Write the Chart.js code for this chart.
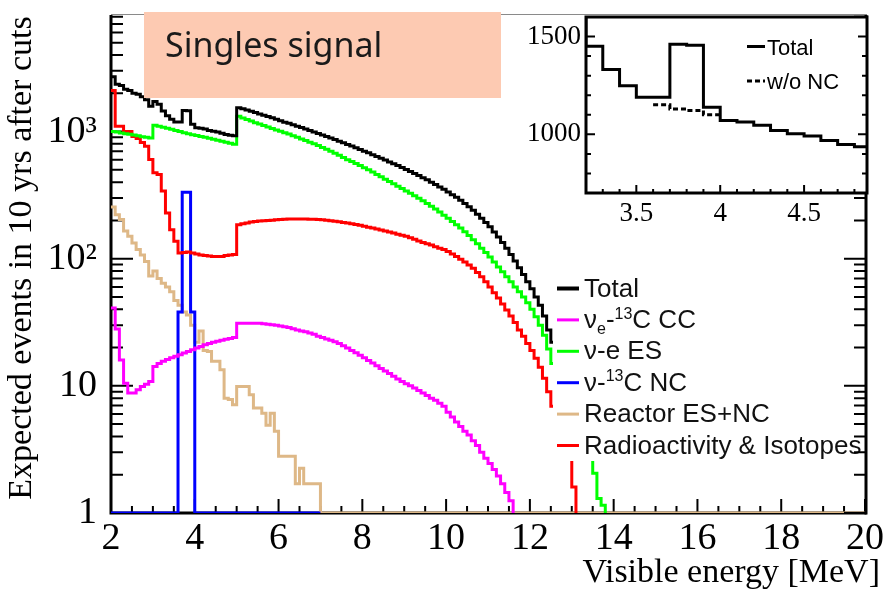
<!DOCTYPE html>
<html>
<head>
<meta charset="utf-8">
<script src="https://cdn.jsdelivr.net/npm/chart.js@4.4.0/dist/chart.umd.min.js"></script>
<style>
html, body { margin: 0; padding: 0; background: #fff; }
#wrap { position: relative; width: 886px; height: 590px; overflow: hidden; }
#mainCanvas { position: absolute; left: 0; top: 0; }
#insetCanvas { position: absolute; left: 500px; top: 0; }
</style>
</head>
<body>
<div id="wrap">
  <canvas id="mainCanvas" width="886" height="590"></canvas>
  <canvas id="insetCanvas" width="386" height="240"></canvas>
</div>
<script>
// histogram bins are 0.1 MeV wide, every series is listed from its first bin
var BIN = 0.1;

var totalStart = 2.0;
var totalVals = [
  2700, 2350, 2300, 2150, 2100, 2000, 1960, 1880, 1780, 1580,
  1720, 1640, 1450, 1331, 1248, 1190, 1190, 1461, 1456, 1139,
  1071, 1063, 1046, 1020, 1003, 991, 969, 948, 936, 925,
  1537, 1510, 1475, 1445, 1410, 1375, 1345, 1315, 1285, 1250,
  1215, 1185, 1160, 1130, 1100, 1075, 1045, 1020, 990, 965,
  940, 915, 890, 865, 840, 815, 790, 768, 745, 722,
  700, 680, 658, 637, 616, 596, 577, 558, 540, 522,
  503, 486, 468, 451, 434, 417, 400, 384, 367, 351,
  335, 319, 304, 288, 272, 256, 240, 224, 208, 193,
  178, 162, 148, 134, 121, 108, 96, 85, 75, 66,
  58, 50, 43, 35.5, 27.5, 22, 17.5, 14
];

// nu_e - 13C CC
var ccStart = 2.0;
var ccVals = [
  41, 28, 16, 10.5, 8.8, 8.8, 9.3, 9.9, 10.3, 10.8,
  14.2, 15, 15.6, 16.1, 16.6, 17.1, 17.6, 18.1, 18.6, 19.2,
  19.8, 20.4, 21, 21.5, 22, 22.4, 22.8, 23.2, 23.6, 24,
  31, 31, 31, 31, 31, 31, 30.8, 30.5, 30.2, 29.9,
  29.5, 29.1, 28.7, 28.1, 27.5, 27, 26.6, 26, 25.4, 24.6,
  24, 23.4, 22.8, 22.2, 21.5, 20.7, 19.8, 19, 18.2, 17.4,
  16.6, 15.8, 15.1, 14.4, 13.7, 13.1, 12.5, 11.9, 11.3, 10.8,
  10.4, 10, 9.6, 9.2, 8.8, 8.4, 8, 7.7, 7.3, 6.9,
  6.2, 5.7, 5.2, 4.8, 4.4, 4.1, 3.7, 3.4, 3.0, 2.7,
  2.45, 2.2, 1.95, 1.7, 1.45, 1.25
];

// nu - e elastic scattering
var esStart = 2.0;
var esVals = [
  1000, 990, 975, 960, 950, 940, 925, 910, 900, 890,
  1120, 1100, 1080, 1060, 1040, 1020, 1000, 980, 960, 945,
  930, 915, 900, 885, 870, 855, 840, 825, 810, 795,
  1320, 1280, 1245, 1210, 1175, 1145, 1115, 1085, 1055, 1030,
  1005, 980, 955, 925, 900, 875, 850, 825, 800, 775,
  750, 725, 700, 675, 650, 625, 600, 580, 560, 540,
  520, 500, 480, 460, 440, 422, 405, 388, 372, 356,
  341, 327, 313, 299, 285, 272, 259, 246, 233, 220,
  208, 196, 185, 174, 163, 152, 141, 131, 121, 112,
  103, 94, 86, 79, 72, 66, 60, 55, 50, 45,
  40, 35, 30, 25, 19.5, 15, 12, 9.5, 7.5, 6,
  5, 4.2, 3.6, 3.1, 2.8, 2.05, 1.3, 1.15
];

// nu - 13C NC (empty bins from 2 to 7 MeV sit on the axis)
var ncStart = 3.6;
var ncVals = [38, 333, 333, 38];

var reactorStart = 2.0;
var reactorVals = [
  255, 222, 203, 165, 150, 133, 118, 107, 95, 73,
  80, 70, 64, 60, 55, 47, 43, 38, 36, 30,
  22, 27, 19, 18.6, 15.6, 15.6, 13.4, 8, 7.8, 7.1,
  9.9, 9.9, 9.9, 8.5, 6.7, 6.7, 6.1, 4.9, 6.1, 4.4,
  2.8, 2.8, 2.8, 2.8, 1.7, 2.25, 1.7, 1.7, 1.7, 1.7
];

var radioStart = 2.0;
var radioVals = [
  2100, 1100, 1100, 1000, 1000, 915, 880, 820, 766, 603,
  475, 460, 340, 229, 169, 137, 111, 112, 113, 111,
  109, 107, 106, 105, 104, 104, 104, 106, 107, 108,
  185, 188, 191, 194, 196, 198, 199, 200, 201, 202,
  203, 204, 205, 205, 205, 205, 205, 204, 204, 203,
  202, 201, 199, 197, 195, 193, 191, 188, 186, 183,
  180, 177, 174, 171, 168, 165, 162, 159, 156, 153,
  150, 146, 142, 138, 134, 131, 128, 124, 121, 118,
  114, 109, 104, 99, 94, 89, 84, 78, 72, 66,
  60, 54, 49, 44, 39.5, 35.5, 31.5, 27.5, 24.5, 21.5,
  19, 16.5, 14, 11.5, 9, 6.9, 5.5, 4.5, 3.6, 3.0,
  1.6
];

// inset: total without the NC contribution
var woNcStart = 3.6;
var woNcVals = [1151, 1130, 1122, 1100];

var xTicks = [2, 4, 6, 8, 10, 12, 14, 16, 18, 20];
var yTicks = [1, 10, 100, 1000];
var yTickLabels = ['1', '10', '10\u00b2', '10\u00b3'];
var insetXTicks = [3.5, 4, 4.5];
var insetYTicks = [1000, 1500];

var seriesNames = [
  [['Total']],
  [['\u03bd'], ['e', 'sub'], ['-'], ['13', 'sup'], ['C CC']],
  [['\u03bd-e ES']],
  [['\u03bd-'], ['13', 'sup'], ['C NC']],
  [['Reactor ES+NC']],
  [['Radioactivity & Isotopes']]
];
var seriesColors = ['#000000', '#ff00ff', '#00ff00', '#0000ff', '#deb887', '#ff0000'];

var SERIF = '"Liberation Serif", "Times New Roman", serif';
var SANS = '"Liberation Sans", Arial, sans-serif';

function histPoints(start, vals, opts) {
  opts = opts || {};
  var pts = [];
  if (opts.floorFrom !== undefined) pts.push({x: opts.floorFrom, y: 1});
  for (var i = 0; i < vals.length; i++) {
    pts.push({x: +(start + i * BIN).toFixed(2), y: vals[i]});
  }
  var end = +(start + vals.length * BIN).toFixed(2);
  if (opts.drop) {
    pts.push({x: end, y: 1});
    if (opts.floorTo !== undefined) pts.push({x: opts.floorTo, y: 1});
  } else {
    pts.push({x: end, y: vals[vals.length - 1]});
  }
  return pts;
}

function lineSet(pts, color, order, dash) {
  return {
    data: pts,
    borderColor: color,
    borderWidth: 3,
    borderDash: dash || [],
    stepped: 'before',
    pointRadius: 0,
    fill: false,
    order: order
  };
}

function drawRich(ctx, x, y, parts, size) {
  parts.forEach(function(p) {
    var s = p[1] ? Math.round(size * 0.62) : size;
    var dy = p[1] === 'sup' ? -size * 0.36 : (p[1] === 'sub' ? size * 0.22 : 0);
    ctx.font = s + 'px ' + SANS;
    ctx.fillText(p[0], x, y + dy);
    x += ctx.measureText(p[0]).width;
  });
}

function line(ctx, x1, y1, x2, y2) {
  ctx.moveTo(x1, y1);
  ctx.lineTo(x2, y2);
}

// keep the plot frame where the picture has it, whatever the label sizes
function fixX(h) {
  return function(s) { s.height = h; s.paddingLeft = 0; s.paddingRight = 0; };
}
function fixY(w) {
  return function(s) { s.width = w; s.paddingTop = 0; s.paddingBottom = 0; };
}

var mainPlugin = {
  id: 'mainFrame',
  beforeDatasetsDraw: function(chart) {
    var ctx = chart.ctx, a = chart.chartArea;
    var xs = chart.scales.x, ys = chart.scales.y;
    ctx.save();
    ctx.strokeStyle = '#8a8a8a';
    ctx.lineWidth = 1;
    ctx.beginPath();
    line(ctx, a.left, a.top - 0.5, a.right + 2, a.top - 0.5);
    ctx.stroke();

    ctx.strokeStyle = '#000';
    ctx.lineWidth = 3;
    ctx.beginPath();
    line(ctx, a.left, a.top, a.left, a.bottom + 1.5);
    line(ctx, a.left - 1.5, a.bottom, a.right + 1.5, a.bottom);
    ctx.stroke();

    ctx.lineWidth = 2;
    ctx.beginPath();
    for (var i = 0; i <= 36; i++) {
      var e = 2 + i * 0.5;
      var px = xs.getPixelForValue(e);
      var len = (i % 4 === 0) ? 14 : 7;
      line(ctx, px, a.bottom, px, a.bottom - len);
    }
    for (var d = 0; d < 4; d++) {
      for (var m = 1; m <= 9; m++) {
        var v = m * Math.pow(10, d);
        if (v > ys.max) break;
        var py = ys.getPixelForValue(v);
        line(ctx, a.left, py, a.left + (m === 1 ? 22 : 12), py);
      }
    }
    ctx.stroke();
    ctx.restore();
  },
  afterDatasetsDraw: function(chart) {
    var ctx = chart.ctx;
    ctx.save();
    ctx.fillStyle = '#fff';
    ctx.fillRect(553, 270, 311, 191);
    for (var i = 0; i < seriesNames.length; i++) {
      var y = 288.5 + i * 31.4;
      ctx.strokeStyle = seriesColors[i];
      ctx.lineWidth = i === 0 ? 4 : 3;
      ctx.beginPath();
      line(ctx, 557, y, 579, y);
      ctx.stroke();
      ctx.fillStyle = '#111';
      ctx.textBaseline = 'alphabetic';
      drawRich(ctx, 584, y + 8, seriesNames[i], 26);
    }
    ctx.restore();
  },
  afterDraw: function(chart) {
    var ctx = chart.ctx, a = chart.chartArea, ys = chart.scales.y;
    ctx.save();
    ctx.strokeStyle = '#000';
    ctx.lineWidth = 3;
    ctx.beginPath();
    line(ctx, a.right + 1, a.top, a.right + 1, a.bottom + 1.5);
    ctx.stroke();
    ctx.lineWidth = 2;
    ctx.beginPath();
    for (var d = 0; d < 4; d++) {
      for (var m = 1; m <= 9; m++) {
        var v = m * Math.pow(10, d);
        if (v > ys.max) break;
        var py = ys.getPixelForValue(v);
        line(ctx, a.right + 1, py, a.right + 1 - (m === 1 ? 22 : 12), py);
      }
    }
    ctx.stroke();

    // label box
    ctx.fillStyle = '#fdcab2';
    ctx.fillRect(144, 12, 357, 86);
    ctx.fillStyle = '#1a1a1a';
    ctx.font = '34px "Noto Sans", ' + SANS;
    ctx.textAlign = 'left';
    ctx.textBaseline = 'alphabetic';
    ctx.fillText('Singles signal', 165, 57);

    // axis titles
    ctx.fillStyle = '#000';
    ctx.font = '34px ' + SERIF;
    ctx.textAlign = 'right';
    ctx.fillText('Visible energy [MeV]', 880, 582);
    ctx.translate(31, 258);
    ctx.rotate(-Math.PI / 2);
    ctx.textAlign = 'center';
    ctx.fillText('Expected events in 10 yrs after cuts', 0, 0);
    ctx.restore();
  }
};

new Chart(document.getElementById('mainCanvas'), {
  type: 'line',
  data: {
    datasets: [
      lineSet(histPoints(totalStart, totalVals), seriesColors[0], 0),
      lineSet(histPoints(ccStart, ccVals, {drop: true}), seriesColors[1], 3),
      lineSet(histPoints(esStart, esVals, {drop: true}), seriesColors[2], 1),
      lineSet(histPoints(ncStart, ncVals, {floorFrom: 2.0, drop: true, floorTo: 7.0}), seriesColors[3], 4),
      lineSet(histPoints(reactorStart, reactorVals, {drop: true, floorTo: 20}), seriesColors[4], 5),
      lineSet(histPoints(radioStart, radioVals, {drop: true}), seriesColors[5], 2)
    ]
  },
  options: {
    responsive: false,
    animation: false,
    devicePixelRatio: 1,
    layout: { padding: { left: 0, right: 21, top: 15, bottom: 0 } },
    plugins: { legend: { display: false }, tooltip: { enabled: false } },
    scales: {
      x: {
        type: 'linear', min: 2, max: 20,
        afterBuildTicks: function(s) { s.ticks = xTicks.map(function(v) { return {value: v}; }); },
        afterFit: fixX(77),
        grid: { display: false, drawTicks: false },
        border: { display: false },
        ticks: { color: '#000', font: { family: SERIF, size: 38 }, padding: 3, maxRotation: 0, autoSkip: false }
      },
      y: {
        type: 'logarithmic', min: 1, max: 8250,
        afterBuildTicks: function(s) { s.ticks = yTicks.map(function(v) { return {value: v}; }); },
        afterFit: fixY(111),
        grid: { display: false, drawTicks: false },
        border: { display: false },
        ticks: {
          color: '#000', font: { family: SERIF, size: 38 }, padding: 14, autoSkip: false,
          callback: function(v) { return yTickLabels[yTicks.indexOf(v)]; }
        }
      }
    }
  },
  plugins: [mainPlugin]
});

var insetPlugin = {
  id: 'insetFrame',
  beforeDatasetsDraw: function(chart) {
    var a = chart.chartArea;
    chart.ctx.save();
    chart.ctx.fillStyle = '#fff';
    chart.ctx.fillRect(a.left, a.top, a.right - a.left, a.bottom - a.top);
    chart.ctx.restore();
  },
  afterDraw: function(chart) {
    var ctx = chart.ctx, a = chart.chartArea;
    var xs = chart.scales.x, ys = chart.scales.y;
    ctx.save();
    ctx.strokeStyle = '#000';
    ctx.lineWidth = 3;
    ctx.strokeRect(a.left, a.top, a.right - a.left, a.bottom - a.top);
    ctx.lineWidth = 2;
    ctx.beginPath();
    for (var v = 700; v <= 1600; v += 100) {
      var py = ys.getPixelForValue(v);
      var len = (v % 500 === 0) ? 9 : 5;
      line(ctx, a.left, py, a.left + len, py);
      line(ctx, a.right, py, a.right - len, py);
    }
    for (var i = 0; i <= 16; i++) {
      var e = 3.2 + i * 0.1;
      var px = xs.getPixelForValue(e);
      var l2 = (i === 3 || i === 8 || i === 13) ? 8 : 4;
      line(ctx, px, a.bottom, px, a.bottom - l2);
    }
    ctx.stroke();

    // inset legend
    ctx.lineWidth = 3;
    ctx.beginPath();
    line(ctx, 247, 46.5, 265, 46.5);
    ctx.stroke();
    ctx.setLineDash([5, 3]);
    ctx.beginPath();
    line(ctx, 247, 81, 265, 81);
    ctx.stroke();
    ctx.setLineDash([]);
    ctx.fillStyle = '#000';
    ctx.font = '22px ' + SANS;
    ctx.textBaseline = 'alphabetic';
    ctx.fillText('Total', 267, 54.5);
    ctx.fillText('w/o NC', 267, 89);
    ctx.restore();
  }
};

new Chart(document.getElementById('insetCanvas'), {
  type: 'line',
  data: {
    datasets: [
      lineSet(histPoints(totalStart, totalVals), '#000', 0),
      lineSet(histPoints(woNcStart, woNcVals), '#000', 1, [5, 3])
    ]
  },
  options: {
    responsive: false,
    animation: false,
    devicePixelRatio: 1,
    layout: { padding: { left: 0, right: 19, top: 17, bottom: 0 } },
    plugins: { legend: { display: false }, tooltip: { enabled: false } },
    scales: {
      x: {
        type: 'linear', min: 3.2, max: 4.875,
        afterBuildTicks: function(s) { s.ticks = insetXTicks.map(function(v) { return {value: v}; }); },
        afterFit: fixX(47),
        grid: { display: false, drawTicks: false },
        border: { display: false },
        ticks: { color: '#000', font: { family: SERIF, size: 27 }, padding: 5, maxRotation: 0, autoSkip: false,
          callback: function(v) { return String(v); } }
      },
      y: {
        type: 'linear', min: 700, max: 1600,
        afterBuildTicks: function(s) { s.ticks = insetYTicks.map(function(v) { return {value: v}; }); },
        afterFit: fixY(86),
        grid: { display: false, drawTicks: false },
        border: { display: false },
        ticks: { color: '#000', font: { family: SERIF, size: 27 }, padding: 5, autoSkip: false,
          callback: function(v) { return String(v); } }
      }
    }
  },
  plugins: [insetPlugin]
});
</script>
</body>
</html>
